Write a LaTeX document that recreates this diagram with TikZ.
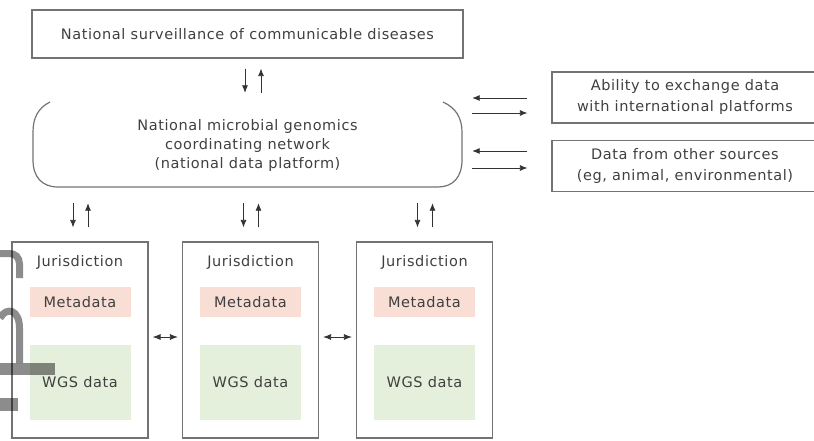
\documentclass[tikz,border=0pt]{standalone}
\usepackage{fontspec}
\setmainfont{DejaVu Sans}[LetterSpace=4]
\usetikzlibrary{arrows.meta}
\definecolor{metafill}{RGB}{248,222,212}
\definecolor{wgsfill}{RGB}{228,240,220}
\tikzset{
  txt/.style={font=\fontsize{14.5}{19}\selectfont, text=black!75, align=center, inner sep=0pt},
  plainbox/.style={txt, draw=black!55, line width=1.2pt},
  sidebox/.style={plainbox, minimum width=266pt, minimum height=51pt, font=\fontsize{14.5}{21}\selectfont},
  jurbox/.style={draw=black!55, line width=1.2pt, minimum width=136pt, minimum height=196pt},
  netline/.style={draw=black!55, line width=1.2pt},
  flow/.style={-{Latex[length=7.5pt,width=6pt]}, line width=0.8pt, black!80},
  twoway/.style={{Latex[length=8pt,width=6pt]}-{Latex[length=8pt,width=6pt]}, line width=0.8pt, black!80}
}
\begin{document}
\begin{tikzpicture}[x=1pt,y=-1pt]
  \clip (0,0) rectangle (814,441);
  % national level
  \node[plainbox, minimum width=431pt, minimum height=48pt] (surv) at (247.5,34) {National surveillance of communicable diseases};
  \node[txt, minimum width=429pt, minimum height=84pt] (net) at (247.5,145) {National microbial genomics\\coordinating network\\(national data platform)};
  % open bracket round the platform
  \draw[netline] (50,102) .. controls (38,108) and (33,118) .. (33,132) -- (33,160)
    .. controls (33,177) and (42,187) .. (58,187) -- (438,187)
    .. controls (453,187) and (462,177) .. (462,160) -- (462,132)
    .. controls (462,118) and (456,108) .. (443,102);
  \draw[flow, shorten <=10pt, shorten >=10pt] ([xshift=-2.5pt]surv.south) -- ([xshift=-2.5pt]net.north);
  \draw[flow, shorten <=10pt, shorten >=10pt] ([xshift=13.5pt]net.north) -- ([xshift=13.5pt]surv.south);
  % outside sources
  \node[sidebox] (ability) at (685,97.5) {Ability to exchange data\\with international platforms};
  \node[sidebox] (other) at (685,166) {Data from other sources\\(eg, animal, environmental)};
  \coordinate (a1) at ([yshift=-0.5pt]ability.west);
  \coordinate (a2) at ([yshift=-15.5pt]ability.west);
  \coordinate (o1) at ([yshift=15pt]other.west);
  \coordinate (o2) at ([yshift=-2pt]other.west);
  \draw[flow, shorten <=24pt, shorten >=10pt] (a1) -- (a1 -| net.east);
  \draw[flow, shorten <=10pt, shorten >=24pt] (a2 -| net.east) -- (a2);
  \draw[flow, shorten <=24pt, shorten >=10pt] (o1) -- (o1 -| net.east);
  \draw[flow, shorten <=10pt, shorten >=24pt] (o2 -| net.east) -- (o2);
  % jurisdictions
  \foreach \i/\x in {1/80,2/250.5,3/424.5} {
    \node[jurbox] (jur\i) at (\x,340) {};
    \node[txt] (jlab\i) at (\x,262) {Jurisdiction};
    \node[txt, fill=metafill, minimum width=101pt, minimum height=30pt] (meta\i) at (\x,302) {Metadata};
    \node[txt, fill=wgsfill, minimum width=101pt, minimum height=75pt] (wgs\i) at (\x,382.5) {WGS data};
    \coordinate (dn\i) at ([xshift=-7pt]jur\i.north);
    \coordinate (up\i) at ([xshift=8pt]jur\i.north);
    \draw[flow, shorten <=16pt, shorten >=14pt] (dn\i |- net.south) -- (dn\i);
    \draw[flow, shorten <=14pt, shorten >=16pt] (up\i) -- (up\i |- net.south);
  }
  \draw[twoway, shorten <=4pt, shorten >=4pt] ([yshift=3pt]jur1.east) -- ([yshift=3pt]jur2.west);
  \draw[twoway, shorten <=4pt, shorten >=4pt] ([yshift=3pt]jur2.east) -- ([yshift=3pt]jur3.west);
  % grey glyph fragment over the left edge
  \begin{scope}[black, opacity=0.45, line width=7pt]
    \draw (0,253.5) -- (9,253.5) .. controls (15,253.5) and (19.5,257) .. (19.5,264) -- (19.5,278);
    \draw (0,318) .. controls (7,306) and (19.5,310) .. (19.5,328) -- (19.5,363);
    \fill (0,363) rectangle (55,375);
    \fill (0,398) rectangle (18,411);
  \end{scope}
\end{tikzpicture}
\end{document}
